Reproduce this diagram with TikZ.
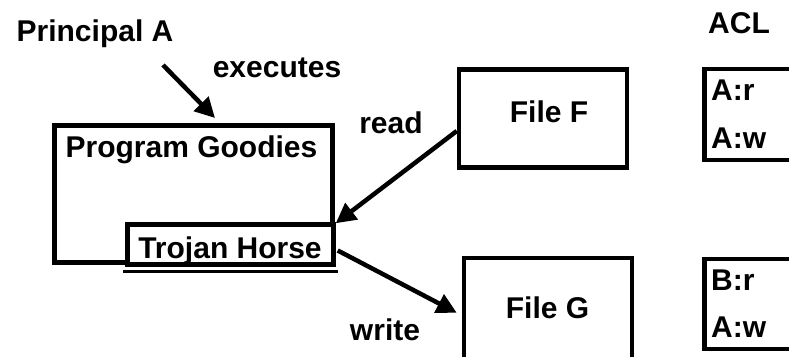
\documentclass[tikz,border=0pt]{standalone}
\usepackage{fontspec}
\setmainfont{Liberation Sans}
\usetikzlibrary{arrows.meta}
\begin{document}
\begin{tikzpicture}[x=1pt,y=-1pt,
  box/.style={draw, line width=4.5pt, rectangle, inner sep=0pt, fill=white},
  lbl/.style={font=\fontsize{30}{36}\selectfont\bfseries, inner sep=0pt, anchor=base},
  lblw/.style={lbl, anchor=base west},
  conn/.style={line width=4.5pt, -{Triangle[length=20pt,width=20pt]}}]
\useasboundingbox (0,0) rectangle (789,356);
\clip (0,0) rectangle (789,356);
\fill[white] (0,0) rectangle (789,356);
% boxes
\node[box, minimum width=278pt, minimum height=137pt] (pg) at (193.5,194) {};
\node[box, minimum width=206pt, minimum height=40pt] (th) at (230.5,244.5) {};
\draw[line width=3pt] ([shift={(-2.25pt,-4.5pt)}]th.south west) -- ([shift={(2.25pt,-4.5pt)}]th.south east);
\node[box, minimum width=168pt, minimum height=98pt] (ff) at (543,118.5) {};
\node[box, minimum width=168pt, minimum height=140pt] (fg) at (548,328) {};
\node[box, minimum width=87pt, minimum height=91pt] (acl1) at (748,114.5) {};
\node[box, minimum width=87pt, minimum height=90pt] (acl2) at (748,304) {};
% texts
\node[lbl] (pa) at (95,41.7) {Principal A};
\node[lbl] (exl) at (277,77) {executes};
\node[lbl] (acl) at (739,33) {ACL};
\node[lbl] (pgt) at (191.5,157) {Program Goodies};
\node[lbl] (tht) at (230,258) {Trojan Horse};
\node[lbl] (rd) at (391,133) {read};
\node[lbl] (wr) at (385,340) {write};
\node[lbl] (fft) at (549,122) {File F};
\node[lbl] (fgt) at (547.5,318) {File G};
\node[lblw] (a1) at (711,100) {A:r};
\node[lblw] (a2) at (711,148) {A:w};
\node[lblw] (b1) at (711,290) {B:r};
\node[lblw] (b2) at (711,337) {A:w};
% connectors
\coordinate (ex1) at (163,65);
\coordinate (ex2) at (215,118);
\draw[conn] (ex1) -- (ex2);
\draw[conn] ([yshift=-12.5pt]ff.west) -- ([shift={(0pt,-1pt)}]th.north east);
\draw[conn] ([shift={(2pt,-6pt)}]th.east) -- ([shift={(-5pt,-57pt)}]fg.north west);
\end{tikzpicture}
\end{document}
